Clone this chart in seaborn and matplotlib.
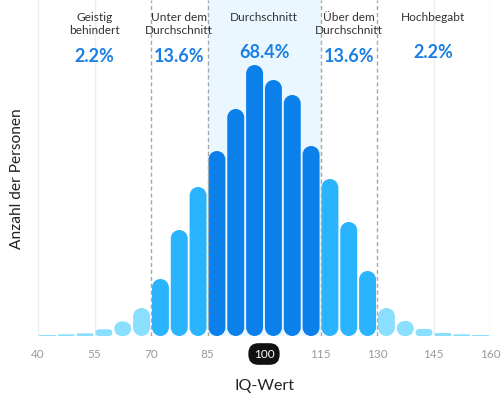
import numpy as np
import pandas as pd
import matplotlib
matplotlib.use("Agg")
import matplotlib.pyplot as plt
from matplotlib.patches import PathPatch
from matplotlib.path import Path
import seaborn as sns

# ---- data ----
iq_centers = [42.5, 47.5, 52.5, 57.5, 62.5, 67.5, 72.5, 77.5, 82.5, 87.5, 92.5, 97.5,
              102.5, 107.5, 112.5, 117.5, 122.5, 127.5, 132.5, 137.5, 142.5, 147.5, 152.5, 157.5]
counts = [1, 1.7, 2.7, 6.7, 14.5, 28, 57, 106, 149, 185, 227, 271,
          256, 241, 190, 157, 114, 65, 28, 15, 7, 3, 1.7, 1]
groups = (["tail"] * 6 + ["mid"] * 3 + ["center"] * 6 + ["mid"] * 3 + ["tail"] * 6)
tick_values = [40, 55, 70, 85, 100, 115, 130, 145, 160]
band_edges = [70, 85, 115, 130]
cat_names = ["Geistig\nbehindert", "Unter dem\nDurchschnitt", "Durchschnitt",
             "Über dem\nDurchschnitt", "Hochbegabt"]
cat_pct = ["2.2%", "13.6%", "68.4%", "13.6%", "2.2%"]
cat_x = [55, 77.5, 100, 122.5, 145]

palette = {"tail": "#8ADFFE", "mid": "#2BB4FE", "center": "#0C80EA"}

df = pd.DataFrame({"iq": iq_centers, "count": counts, "group": groups})

sns.set_theme(style="white")
plt.rcParams["font.family"] = ["Lato", "DejaVu Sans"]

fig = plt.figure(figsize=(5.04, 3.99), dpi=100)
ax = fig.add_axes([38 / 504, (399 - 336) / 399, (490 - 38) / 504, 336 / 399])

XMIN, XMAX, YMAX = 40, 160, 336
ax.set_xlim(XMIN, XMAX)
ax.set_ylim(0, YMAX)

# shaded bands
ax.axvspan(70, 85, color="#F3FAFE", zorder=0, lw=0)
ax.axvspan(115, 130, color="#F3FAFE", zorder=0, lw=0)
ax.axvspan(85, 115, color="#EAF7FE", zorder=0, lw=0)
for t in [40, 55, 145, 160]:
    ax.axvline(t, color="#EDEDED", lw=1, zorder=0.5)
for e in band_edges:
    ax.axvline(e, color="#A8A8A8", lw=1, ls=(0, (3, 2)), zorder=3)

sns.barplot(data=df, x="iq", y="count", hue="group", palette=palette,
            native_scale=True, width=0.9, dodge=False, legend=False,
            ax=ax, zorder=2, saturation=1)
ax.set_xlim(XMIN, XMAX)
ax.set_ylim(0, YMAX)

# convert bars to pill shapes (true circular caps in screen space)
fig.canvas.draw()
bbox = ax.get_window_extent()
xpp = (XMAX - XMIN) / bbox.width
ypp = YMAX / bbox.height
aspect = ypp / xpp


def pill_path(x0, y0, w, h, asp):
    hs = h / asp  # height in x-units
    r = min(w / 2, hs / 2)
    x1 = x0 + w
    ys0 = y0 / asp
    ys1 = ys0 + hs
    verts, codes = [], []
    corners = [((x1 - r, ys0 + r), 270, 360),
               ((x1 - r, ys1 - r), 0, 90),
               ((x0 + r, ys1 - r), 90, 180),
               ((x0 + r, ys0 + r), 180, 270)]
    for i, (c, t1, t2) in enumerate(corners):
        arc = Path.arc(t1, t2)
        v = arc.vertices * r + np.array(c)
        cd = list(arc.codes)
        if i > 0:
            cd[0] = Path.LINETO
        verts.extend(v.tolist())
        codes.extend(cd)
    verts.append(verts[0])
    codes.append(Path.CLOSEPOLY)
    verts = np.array(verts)
    verts[:, 1] *= asp
    return Path(verts, codes)


for p in list(ax.patches):
    if not hasattr(p, "get_x"):
        continue
    x0, w, h = p.get_x(), p.get_width(), p.get_height()
    if h <= 0 or w <= 0 or w > 20:
        continue
    fc = p.get_facecolor()
    ax.add_patch(PathPatch(pill_path(x0, 0, w, h, aspect), facecolor=fc,
                           edgecolor="none", zorder=2))
    p.set_visible(False)

# ticks
ax.set_xticks(tick_values)
ax.set_xticklabels([str(v) for v in tick_values])
ax.set_yticks([])
ax.tick_params(axis="x", length=0, pad=9, labelsize=8.5, labelcolor="#9A9A9A")
for lbl in ax.get_xticklabels():
    if lbl.get_text() == "100":
        lbl.set_color("white")
        lbl.set_bbox(dict(boxstyle="round,pad=0.45,rounding_size=0.85",
                          fc="#111111", ec="none"))

for s in ax.spines.values():
    s.set_visible(False)

ax.set_xlabel("IQ-Wert", fontsize=11.5, color="#222222", labelpad=14)
ax.set_ylabel("Anzahl der Personen", fontsize=11.2, color="#222222")
ax.yaxis.set_label_coords(-0.032, 1 - 179 / 336)

# category annotations
for xname, name, pct in zip(cat_x, cat_names, cat_pct):
    ax.text(xname, 324, name, ha="center", va="top", fontsize=8.6,
            color="#333333", linespacing=1.2, zorder=5)
    nlines = name.count("\n") + 1
    ypct = 284 if nlines == 1 else 280
    ax.text(xname, ypct, pct, ha="center", va="center", fontsize=13,
            color="#1B7FE3", fontweight="bold", zorder=5)

fig.savefig("out.png", dpi=100)
